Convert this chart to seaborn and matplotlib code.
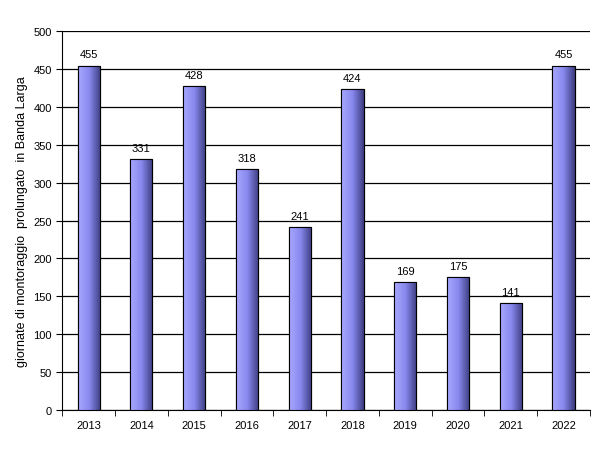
import matplotlib
matplotlib.use("Agg")
import matplotlib.pyplot as plt
import seaborn as sns
import numpy as np
import pandas as pd
from matplotlib.colors import LinearSegmentedColormap

years = ["2013","2014","2015","2016","2017","2018","2019","2020","2021","2022"]
values = [455,331,428,318,241,424,169,175,141,455]
df = pd.DataFrame({"anno": years, "v": values})

sns.set_style("white")
plt.rcParams['font.family'] = ['Liberation Sans', 'DejaVu Sans']
fig = plt.figure(figsize=(6.10, 4.64), dpi=100)
ax = fig.add_axes([0.102, 0.115, 0.865, 0.815])
sns.barplot(data=df, x="anno", y="v", color="#9090ee", width=0.42, ax=ax,
            edgecolor="black", linewidth=0.8, zorder=3)
cmap = LinearSegmentedColormap.from_list("g", ["#a8a8ff", "#8888ee", "#3c3c80"])
grad = np.linspace(0, 1, 100).reshape(1, -1)
for p in ax.patches:
    x0, y0, w, h = p.get_x(), p.get_y(), p.get_width(), p.get_height()
    im = ax.imshow(grad, cmap=cmap, aspect="auto", extent=[x0, x0+w, y0, y0+h], zorder=3.5)
    im.set_clip_path(p)
    ax.add_patch(plt.Rectangle((x0, y0), w, h, fill=False, ec="black", lw=0.8, zorder=4))
for i, v in enumerate(values):
    ax.text(i, v + 8, str(v), ha="center", va="bottom", fontsize=8, color="black", zorder=5)
ax.set_xlim(-0.5, len(years) - 0.5)
ax.set_ylim(0, 500)
ax.set_yticks(range(0, 501, 50))
ax.yaxis.grid(True, color="black", linewidth=0.9, zorder=0)
ax.set_axisbelow(True)
for s in ["top", "right"]:
    ax.spines[s].set_visible(False)
for s in ["left", "bottom"]:
    ax.spines[s].set_color("black")
    ax.spines[s].set_linewidth(0.8)
ax.tick_params(axis="both", labelsize=8, length=4, direction="out", left=True, bottom=False,
               color="black", labelcolor="black")
ax.set_xticks(np.arange(-0.5, len(years), 1), minor=True)
ax.tick_params(axis="x", which="minor", length=4, bottom=True, color="black")
ax.set_xlabel("")
ax.set_ylabel("giornate di montoraggio  prolungato  in Banda Larga", fontsize=9, color="black")
fig.savefig("out.png", dpi=100)
